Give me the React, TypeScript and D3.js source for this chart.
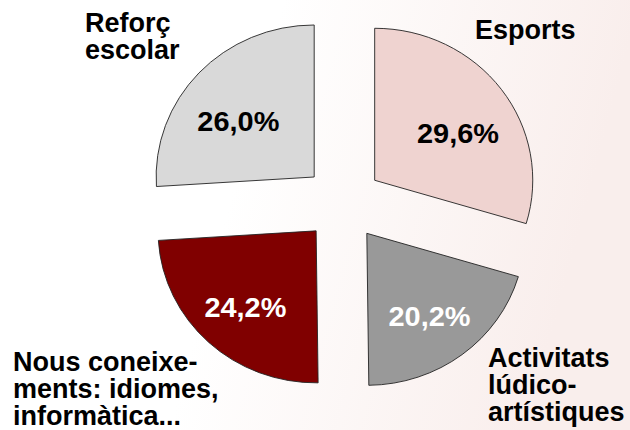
import React from "react";
import * as d3 from "d3";

// chart data
const categories = [
  "Esports",
  "Activitats lúdico-artístiques",
  "Nous coneixements: idiomes, informàtica...",
  "Reforç escolar",
];
const values = [29.6, 20.2, 24.2, 26.0];
const valueLabels = ["29,6%", "20,2%", "24,2%", "26,0%"];
const labelLines = [
  ["Esports"],
  ["Activitats", "lúdico-", "artístiques"],
  ["Nous coneixe-", "ments: idiomes,", "informàtica..."],
  ["Reforç", "escolar"],
];

// styles / layout
const sliceColors = ["#efd3d0", "#999999", "#800000", "#d9d9d9"];
const valueColors = ["#000000", "#ffffff", "#ffffff", "#000000"];
const labelAnchors = [
  [475, 39],
  [488, 367],
  [13, 371],
  [85, 32],
];

const W = 630;
const H = 430;
const cx = 343;
const cy = 203;
const radius = 152;
const sx = 1.04; // slight horizontal stretch of the pie
const explode = 38;
const labelRx = 100;
const labelRy = 93;
const font = "'Liberation Sans', Arial, Helvetica, sans-serif";

export default function App() {
  const pie = d3
    .pie<number>()
    .sort(null)
    .value((d) => d);
  const arcs = pie(values);
  const arc = d3.arc<d3.PieArcDatum<number>>().innerRadius(0).outerRadius(radius);

  return (
    <svg
      width={W}
      height={H}
      style={{ position: "absolute", left: 0, top: 0 }}
      fontFamily={font}
    >
      <defs>
        <linearGradient id="bg" x1="0.45" y1="0" x2="1" y2="0.1">
          <stop offset="0" stopColor="#ffffff" />
          <stop offset="1" stopColor="#f9eeec" />
        </linearGradient>
      </defs>
      <rect width={W} height={H} fill="url(#bg)" />

      <g transform={`translate(${cx},${cy}) scale(${sx},1)`}>
        {arcs.map((a, i) => {
          const mid = (a.startAngle + a.endAngle) / 2;
          const dx = explode * Math.sin(mid);
          const dy = -explode * Math.cos(mid);
          return (
            <path
              key={categories[i]}
              d={arc(a) || ""}
              transform={`translate(${dx},${dy})`}
              fill={sliceColors[i]}
              stroke="#222"
              strokeWidth={0.9}
              vectorEffect="non-scaling-stroke"
            />
          );
        })}
      </g>

      {arcs.map((a, i) => {
        const mid = (a.startAngle + a.endAngle) / 2;
        const x = cx + sx * (explode + labelRx) * Math.sin(mid);
        const y = cy - (explode + labelRy) * Math.cos(mid) + 18;
        return (
          <text
            key={"v" + i}
            x={x}
            y={y}
            textAnchor="middle"
            fontSize={28}
            fontWeight="bold"
            fill={valueColors[i]}
            textLength={82}
            lengthAdjust="spacingAndGlyphs"
          >
            {valueLabels[i]}
          </text>
        );
      })}

      {labelLines.map((lines, i) => (
        <text
          key={"l" + i}
          x={labelAnchors[i][0]}
          y={labelAnchors[i][1]}
          fontSize={27}
          fontWeight="bold"
          fill="#000"
        >
          {lines.map((ln, j) => (
            <tspan key={j} x={labelAnchors[i][0]} dy={j === 0 ? 0 : 27}>
              {ln}
            </tspan>
          ))}
        </text>
      ))}
    </svg>
  );
}
